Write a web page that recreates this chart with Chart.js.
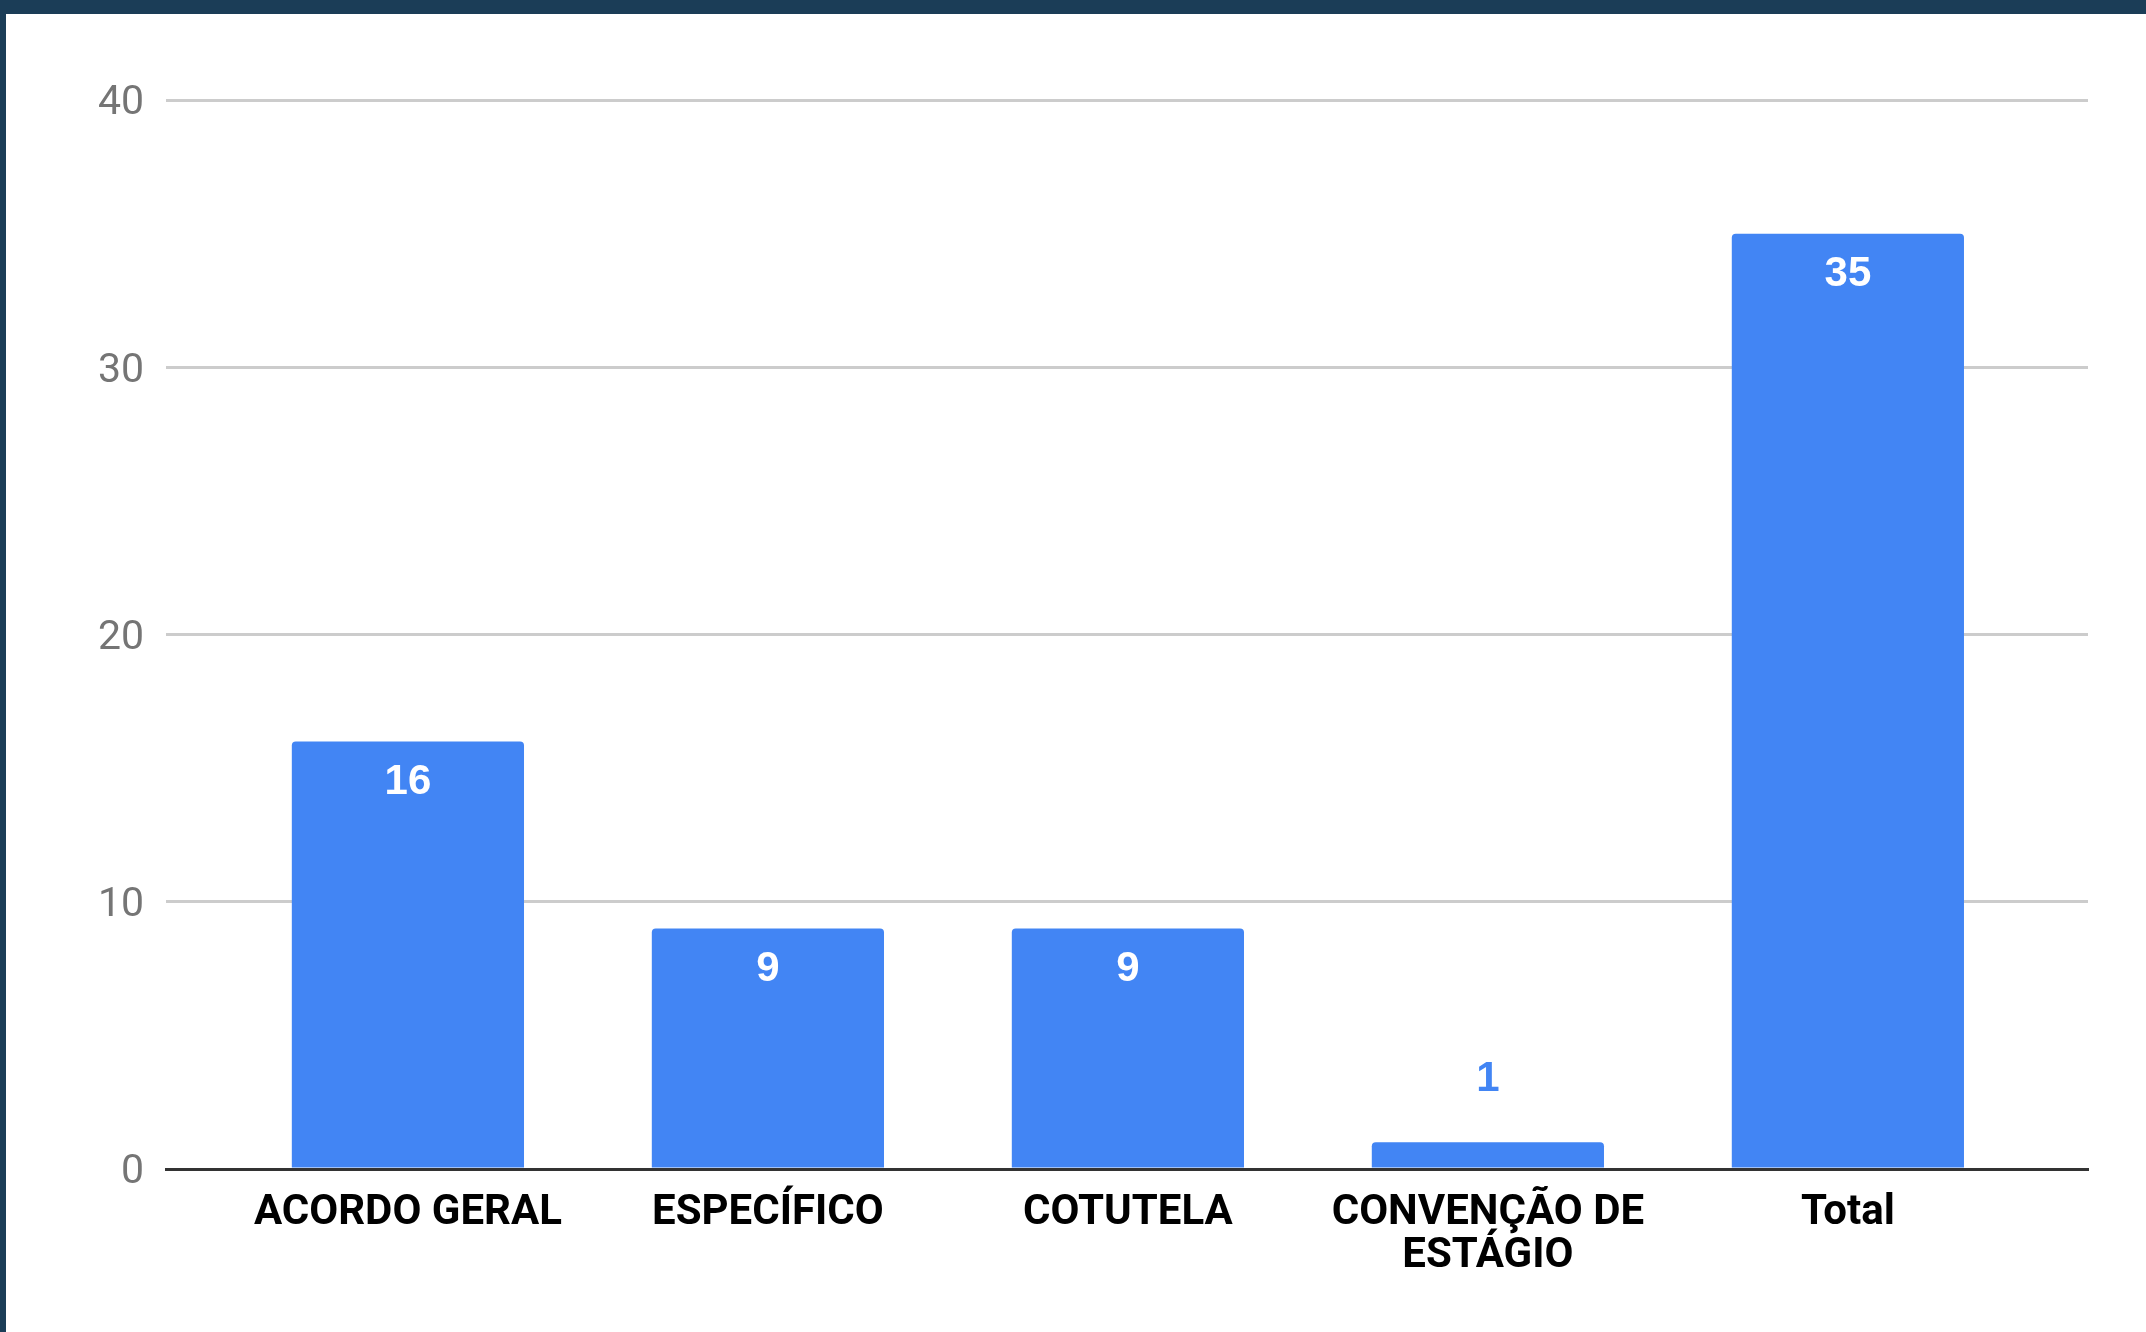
<!DOCTYPE html>
<html>
<head>
<meta charset="utf-8">
<script src="https://cdn.jsdelivr.net/npm/chart.js@4/dist/chart.umd.min.js"></script>
<style>
  html, body { margin: 0; padding: 0; }
  body { width: 2146px; height: 1332px; background: #1b3d57; position: relative; overflow: hidden; }
  #wrap { position: absolute; left: 6px; top: 14px; width: 2140px; height: 1318px; background: #fff; }
</style>
</head>
<body>
<div id="wrap"><canvas id="chart"></canvas></div>
<script>
// categorias e valores
const categories = [['ACORDO GERAL'], ['ESPECÍFICO'], ['COTUTELA'], ['CONVENÇÃO DE', 'ESTÁGIO'], ['Total']];
const counts = [16, 9, 9, 1, 35];
const yTicks = [0, 10, 20, 30, 40];

const blue = '#4285f4';

// rótulos de valor nas barras
const valueLabels = {
  id: 'valueLabels',
  afterDatasetsDraw(chart) {
    const ctx = chart.ctx;
    const meta = chart.getDatasetMeta(0);
    ctx.save();
    ctx.font = 'bold 42px "Liberation Sans", Arial';
    ctx.textAlign = 'center';
    ctx.textBaseline = 'middle';
    meta.data.forEach((bar, i) => {
      const h = bar.base - bar.y;
      if (h > 80) {
        ctx.fillStyle = '#fff';
        ctx.fillText(counts[i], bar.x, bar.y + 41);
      } else {
        ctx.fillStyle = blue;
        ctx.fillText(counts[i], bar.x, bar.y - 63);
      }
    });
    ctx.restore();
  }
};

new Chart(document.getElementById('chart'), {
  type: 'bar',
  data: {
    datasets: [{
      data: counts.map((v, i) => ({x: i, y: v})),
      backgroundColor: blue,
      borderRadius: {topLeft: 4, topRight: 4, bottomLeft: 0, bottomRight: 0},
      borderSkipped: 'bottom',
      barPercentage: 0.645,
      categoryPercentage: 1
    }]
  },
  options: {
    responsive: true,
    maintainAspectRatio: false,
    animation: false,
    layout: { padding: { top: 86, right: 58, left: 0, bottom: 0 } },
    plugins: { legend: { display: false }, tooltip: { enabled: false } },
    scales: {
      x: {
        type: 'linear',
        offset: false,
        min: -0.672,
        max: 4.667,
        z: 1,
        grid: { display: false, drawTicks: false },
        border: { display: true, color: '#333', width: 3 },
        afterBuildTicks: s => { s.ticks = categories.map((_, i) => ({value: i})); },
        afterFit: s => { s.height = 163; },
        ticks: {
          autoSkip: false,
          maxRotation: 0,
          padding: 23,
          color: '#000',
          font: { family: 'Roboto', size: 42, weight: 'bold', lineHeight: 1.02 },
          callback: v => categories[v]
        }
      },
      y: {
        min: 0,
        max: 40,
        afterBuildTicks: s => { s.ticks = yTicks.map(v => ({value: v})); },
        afterFit: s => { s.width = 160; },
        grid: {
          drawTicks: false,
          color: c => c.tick.value === 0 ? 'rgba(0,0,0,0)' : '#cccccc',
          lineWidth: 3
        },
        border: { display: false },
        ticks: {
          padding: 22,
          labelOffset: 4,
          color: '#757575',
          font: { family: 'Roboto', size: 41 }
        }
      }
    }
  },
  plugins: [valueLabels]
});
</script>
</body>
</html>
